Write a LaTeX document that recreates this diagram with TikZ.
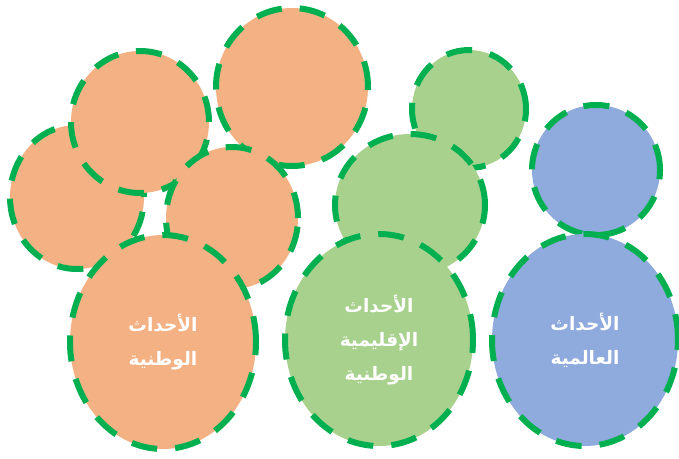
\documentclass[tikz,border=0pt]{standalone}
\usepackage{fontspec}
\newfontfamily\arabicfont[Script=Arabic]{DejaVu Sans}
\TeXXeTstate=1
\usetikzlibrary{shapes.geometric}
\definecolor{orangefill}{HTML}{F4B183}
\definecolor{greenfill}{HTML}{A9D18E}
\definecolor{bluefill}{HTML}{8FAADC}
\definecolor{dashgreen}{HTML}{00B050}
\tikzset{
  Bubble/.style = {ellipse, draw=dashgreen, line width=6pt,
    dash pattern=on 26pt off 18pt, inner sep=0pt, text=white,
    align=center, font=\arabicfont\bfseries\fontsize{18.5}{34}\selectfont},
}
\begin{document}
\begin{tikzpicture}[x=1pt, y=-1pt]

    \useasboundingbox (0,0) rectangle (679,458);
    % national
    \node[Bubble, fill=orangefill, minimum width=134pt, minimum height=144pt] (OA) at (77,197) {};
    \node[Bubble, fill=orangefill, minimum width=138pt, minimum height=142pt] (OB) at (140,122) {};
    \node[Bubble, fill=orangefill, minimum width=152pt, minimum height=158pt] (OC) at (292,87) {};
    \node[Bubble, fill=orangefill, minimum width=132pt, minimum height=142pt] (OD) at (232,218) {};
    \node[Bubble, fill=orangefill, minimum width=186pt, minimum height=214pt] (OE) at (163,342)
        {\beginR الأحداث\endR\\\beginR الوطنية\endR};
    % regional
    \node[Bubble, fill=greenfill, minimum width=114pt, minimum height=118pt] (GA) at (469,109) {};
    \node[Bubble, fill=greenfill, minimum width=150pt, minimum height=142pt] (GB) at (410,205) {};
    \node[Bubble, fill=greenfill, minimum width=188pt, minimum height=212pt] (GC) at (379,340)
        {\beginR الأحداث\endR\\\beginR الإقليمية\endR\\\beginR الوطنية\endR};
    % world
    \node[Bubble, fill=bluefill, minimum width=128pt, minimum height=130pt] (BA) at (596,170) {};
    \node[Bubble, fill=bluefill, minimum width=186pt, minimum height=212pt] (BB) at (585,340)
        {\beginR الأحداث\endR\\\beginR العالمية\endR};

\end{tikzpicture}
\end{document}
